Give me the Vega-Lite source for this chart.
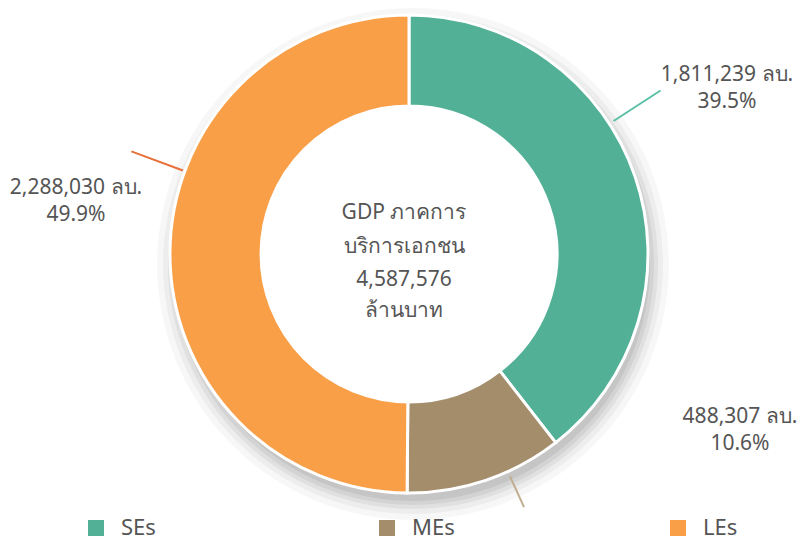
{
  "$schema": "https://vega.github.io/schema/vega-lite/v6.json",
  "width": 778,
  "height": 508,
  "autosize": {"type": "none"},
  "padding": {"left": 20, "top": 0, "right": 0, "bottom": 35},
  "background": "#ffffff",
  "config": {"view": {"stroke": null}, "font": "Noto Sans"},
  "data": {"values": [
    {"group": "SEs", "idx": 1, "value": 1811239, "label": "1,811,239 ลบ.\n39.5%"},
    {"group": "MEs", "idx": 2, "value": 488307, "label": "488,307 ลบ.\n10.6%"},
    {"group": "LEs", "idx": 3, "value": 2288030, "label": "2,288,030 ลบ.\n49.9%"}
  ]},
  "transform": [
    {"stack": "value", "groupby": [], "sort": [{"field": "idx", "order": "ascending"}], "as": ["v0", "v1"]}
  ],
  "layer": [
    {
      "transform": [{"aggregate": [{"op": "min", "field": "v0", "as": "s0"}, {"op": "max", "field": "v1", "as": "s1"}]}],
      "encoding": {"theta": {"field": "s1", "type": "quantitative", "stack": null}, "theta2": {"field": "s0"}},
      "layer": [
        {"mark": {"type": "arc", "radius": 237, "radius2": 190, "fill": "#000000", "opacity": 0.06, "xOffset": 4, "yOffset": 10}},
        {"mark": {"type": "arc", "radius": 241, "radius2": 190, "fill": "#000000", "opacity": 0.06, "xOffset": 4, "yOffset": 10}},
        {"mark": {"type": "arc", "radius": 245, "radius2": 190, "fill": "#000000", "opacity": 0.05, "xOffset": 4, "yOffset": 10}},
        {"mark": {"type": "arc", "radius": 250, "radius2": 190, "fill": "#000000", "opacity": 0.04, "xOffset": 4, "yOffset": 10}},
        {"mark": {"type": "arc", "radius": 256, "radius2": 190, "fill": "#000000", "opacity": 0.03, "xOffset": 4, "yOffset": 10}}
      ]
    },
    {
      "mark": {"type": "arc", "radius": 239, "radius2": 148, "stroke": "#ffffff", "strokeWidth": 3},
      "encoding": {
        "theta": {"field": "v1", "type": "quantitative", "stack": null},
        "theta2": {"field": "v0"},
        "color": {
          "field": "group",
          "type": "nominal",
          "scale": {"domain": ["SEs", "MEs", "LEs"], "range": ["#52b096", "#a38d6b", "#f99f48"]},
          "legend": {
            "title": null,
            "orient": "none",
            "legendX": 65,
            "legendY": 517,
            "direction": "horizontal",
            "columns": 3,
            "gridAlign": "all",
            "columnPadding": 212,
            "padding": 0,
            "symbolType": "square",
            "symbolSize": 256,
            "symbolStrokeWidth": 0,
            "labelFontSize": 22,
            "labelColor": "#555555",
            "labelFont": "Noto Sans",
            "labelOffset": 14,
            "encode": {"symbols": {"update": {"fill": {"signal": "datum.value === 'SEs' ? '#5ec3ad' : datum.value === 'MEs' ? '#c2b197' : '#fdb042'"}, "opacity": {"value": 1}}}}
          }
        }
      }
    },
    {
      "transform": [{"filter": "datum.group === 'SEs'"}],
      "mark": {"type": "arc", "radius": 300, "radius2": 244, "padAngle": 3.1416, "fillOpacity": 0, "stroke": "#5bbfa5", "strokeWidth": 2, "thetaOffset": -0.246, "theta2Offset": -0.246},
      "encoding": {"theta": {"field": "v1", "type": "quantitative", "stack": null}, "theta2": {"field": "v0"}}
    },
    {
      "transform": [{"filter": "datum.group === 'MEs'"}],
      "mark": {"type": "arc", "radius": 278, "radius2": 244, "padAngle": 3.1416, "fillOpacity": 0, "stroke": "#c0ad90", "strokeWidth": 2, "thetaOffset": -0.1, "theta2Offset": -0.1},
      "encoding": {"theta": {"field": "v1", "type": "quantitative", "stack": null}, "theta2": {"field": "v0"}}
    },
    {
      "transform": [{"filter": "datum.group === 'LEs'"}],
      "mark": {"type": "arc", "radius": 296, "radius2": 241, "padAngle": 3.1416, "fillOpacity": 0, "stroke": "#e8703a", "strokeWidth": 2, "thetaOffset": 0.35, "theta2Offset": 0.35},
      "encoding": {"theta": {"field": "v1", "type": "quantitative", "stack": null}, "theta2": {"field": "v0"}}
    },
    {
      "transform": [{"filter": "datum.group === 'SEs'"}],
      "mark": {"type": "text", "dx": 318, "dy": -179, "lineBreak": "\n", "lineHeight": 27, "fontSize": 21, "align": "center", "baseline": "middle", "color": "#555555"},
      "encoding": {"text": {"field": "label"}}
    },
    {
      "transform": [{"filter": "datum.group === 'MEs'"}],
      "mark": {"type": "text", "dx": 331, "dy": 163, "lineBreak": "\n", "lineHeight": 27, "fontSize": 21, "align": "center", "baseline": "middle", "color": "#555555"},
      "encoding": {"text": {"field": "label"}}
    },
    {
      "transform": [{"filter": "datum.group === 'LEs'"}],
      "mark": {"type": "text", "dx": -333, "dy": -66, "lineBreak": "\n", "lineHeight": 27, "fontSize": 21, "align": "center", "baseline": "middle", "color": "#555555"},
      "encoding": {"text": {"field": "label"}}
    },
    {
      "transform": [{"aggregate": [{"op": "sum", "field": "value", "as": "total"}]}],
      "layer": [
        {"mark": {"type": "text", "text": ["GDP ภาคการ", "บริการเอกชน"], "lineHeight": 34, "dx": -5, "dy": -41, "fontSize": 21, "align": "center", "baseline": "middle", "color": "#555555"}, "encoding": {}},
        {"mark": {"type": "text", "dx": -5, "dy": 26, "fontSize": 21, "align": "center", "baseline": "middle", "color": "#555555"}, "encoding": {"text": {"field": "total", "type": "quantitative", "format": ","}}},
        {"mark": {"type": "text", "text": "ล้านบาท", "dx": -5, "dy": 57, "fontSize": 21, "align": "center", "baseline": "middle", "color": "#555555"}, "encoding": {}}
      ]
    }
  ]
}
